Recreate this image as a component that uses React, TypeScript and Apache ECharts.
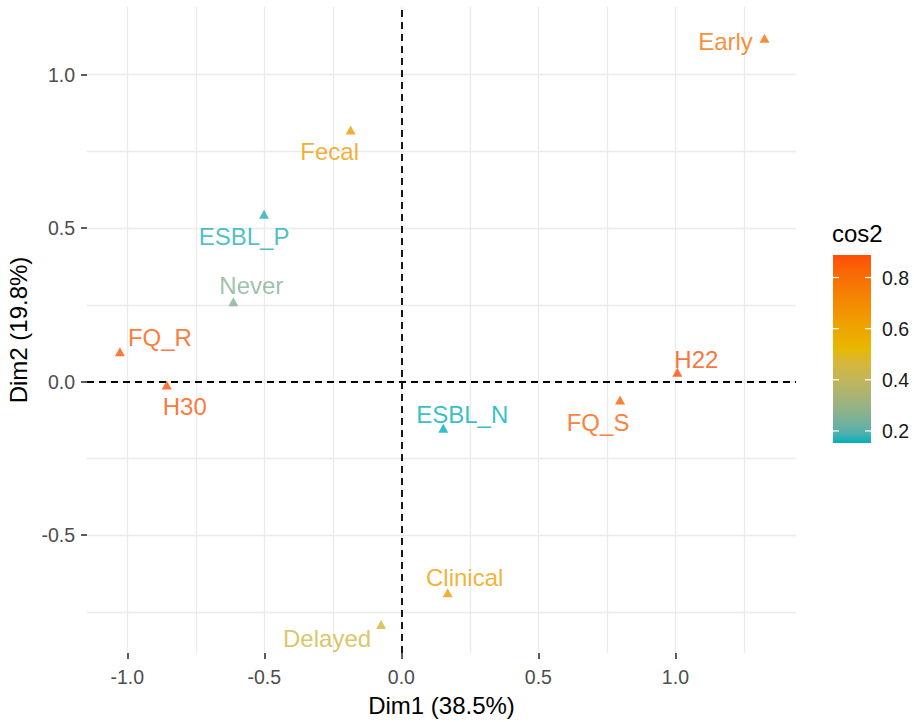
import React, { useEffect, useRef } from "react";
import * as echarts from "echarts";

// ---------- data ----------
const labels = ["Early", "Fecal", "ESBL_P", "Never", "FQ_R", "H30", "Delayed", "ESBL_N", "FQ_S", "H22", "Clinical"];
const dim1 = [1.325, -0.185, -0.501, -0.613, -1.027, -0.856, -0.074, 0.153, 0.798, 1.007, 0.169];
const dim2 = [1.118, 0.819, 0.545, 0.26, 0.097, -0.011, -0.791, -0.152, -0.06, 0.03, -0.688];
const cos2 = [0.79, 0.64, 0.16, 0.26, 0.86, 0.87, 0.45, 0.153, 0.84, 0.888, 0.63];

const xTicks = [-1, -0.5, 0, 0.5, 1];
const yTicks = [-0.5, 0, 0.5, 1];
const xGrid = [-1, -0.75, -0.5, -0.25, 0, 0.25, 0.5, 0.75, 1, 1.25];
const yGrid = [-0.75, -0.5, -0.25, 0, 0.25, 0.5, 0.75, 1];
const legendTicks = [0.2, 0.4, 0.6, 0.8];
const gradientColors = ["#00AFBB", "#E7B800", "#FC4E07"];

const xTitle = "Dim1 (38.5%)";
const yTitle = "Dim2 (19.8%)";
const legendTitle = "cos2";

// ---------- layout / style ----------
const W = 914;
const H = 722;
const FONT = "'Liberation Sans', Arial, sans-serif";
const GRID = { left: 87, right: W - 796, top: 7, bottom: H - 653 };
const X_RANGE = [-1.147, 1.44];
const Y_RANGE = [-0.884, 1.22];
const labelOffsets: Record<string, [number, number]> = {
  Early: [-39, 3],
  Fecal: [-21, 21],
  ESBL_P: [-20, 22],
  Never: [18, -16],
  FQ_R: [40, -14],
  H30: [18, 22],
  Delayed: [-54, 14],
  ESBL_N: [19, -14],
  FQ_S: [-22, 22],
  H22: [19, -13],
  Clinical: [17, -15],
};
const BAR = { x: 833, y: 255, w: 38, h: 188 };

// ---------- colour helpers (Lab interpolation like ggplot) ----------
function hexToRgb(h: string): number[] {
  const s = h.replace("#", "");
  return [0, 2, 4].map((i) => parseInt(s.slice(i, i + 2), 16));
}
function toLin(c: number) {
  c /= 255;
  return c <= 0.04045 ? c / 12.92 : Math.pow((c + 0.055) / 1.055, 2.4);
}
function fromLin(c: number) {
  const v = c <= 0.0031308 ? 12.92 * c : 1.055 * Math.pow(Math.max(c, 0), 1 / 2.4) - 0.055;
  return Math.max(0, Math.min(255, Math.round(v * 255)));
}
const XN = 0.95047, YN = 1, ZN = 1.08883;
function rgbToLab(rgb: number[]) {
  const [r, g, b] = rgb.map(toLin);
  const X = 0.4124564 * r + 0.3575761 * g + 0.1804375 * b;
  const Y = 0.2126729 * r + 0.7151522 * g + 0.072175 * b;
  const Z = 0.0193339 * r + 0.119192 * g + 0.9503041 * b;
  const f = (t: number) => (t > 0.008856 ? Math.cbrt(t) : 7.787 * t + 16 / 116);
  const fx = f(X / XN), fy = f(Y / YN), fz = f(Z / ZN);
  return [116 * fy - 16, 500 * (fx - fy), 200 * (fy - fz)];
}
function labToHex(lab: number[]) {
  const [L, a, bb] = lab;
  const fy = (L + 16) / 116;
  const fx = fy + a / 500;
  const fz = fy - bb / 200;
  const inv = (t: number) => (t * t * t > 0.008856 ? t * t * t : (t - 16 / 116) / 7.787);
  const X = XN * inv(fx), Y = YN * inv(fy), Z = ZN * inv(fz);
  const r = 3.2404542 * X - 1.5371385 * Y - 0.4985314 * Z;
  const g = -0.969266 * X + 1.8760108 * Y + 0.041556 * Z;
  const b = 0.0556434 * X - 0.2040259 * Y + 1.0572252 * Z;
  return "#" + [r, g, b].map((c) => fromLin(c).toString(16).padStart(2, "0")).join("");
}
const labStops = gradientColors.map((c) => rgbToLab(hexToRgb(c)));
function rampColor(t: number) {
  const tt = Math.max(0, Math.min(1, t));
  const seg = tt * (labStops.length - 1);
  const i = Math.min(labStops.length - 2, Math.floor(seg));
  const f = seg - i;
  const a = labStops[i], b = labStops[i + 1];
  return labToHex([0, 1, 2].map((k) => a[k] + (b[k] - a[k]) * f));
}

const cosMin = Math.min(...cos2);
const cosMax = Math.max(...cos2);
const cosColor = (v: number) => rampColor((v - cosMin) / (cosMax - cosMin));

export default function App() {
  const ref = useRef<HTMLDivElement>(null);

  useEffect(() => {
    document.body.style.margin = "0";
    if (!ref.current) return;
    const chart = echarts.init(ref.current, undefined, { renderer: "svg" });

    const points = labels.map((name, i) => {
      const col = cosColor(cos2[i]);
      return {
        name,
        value: [dim1[i], dim2[i], cos2[i]],
        itemStyle: { color: col },
        label: { color: col },
      };
    });

    const stops = [];
    for (let k = 0; k <= 20; k++) {
      stops.push({ offset: k / 20, color: rampColor(k / 20) });
    }

    const graphics: any[] = [
      {
        type: "text",
        x: BAR.x - 1,
        y: 233,
        style: { text: legendTitle, fontSize: 24, fontFamily: FONT, fill: "#000", verticalAlign: "middle", align: "left" },
      },
      {
        type: "rect",
        shape: { x: BAR.x, y: BAR.y, width: BAR.w, height: BAR.h },
        style: { fill: new echarts.graphic.LinearGradient(0, 1, 0, 0, stops) },
      },
    ];
    legendTicks.forEach((v) => {
      const ty = BAR.y + BAR.h - ((v - cosMin) / (cosMax - cosMin)) * BAR.h;
      graphics.push(
        { type: "line", shape: { x1: BAR.x, y1: ty, x2: BAR.x + 6, y2: ty }, style: { stroke: "#fff", lineWidth: 1.2 } },
        { type: "line", shape: { x1: BAR.x + BAR.w - 6, y1: ty, x2: BAR.x + BAR.w, y2: ty }, style: { stroke: "#fff", lineWidth: 1.2 } },
        {
          type: "text",
          x: 882,
          y: ty,
          style: { text: v.toFixed(1), fontSize: 19.5, fontFamily: FONT, fill: "#1A1A1A", verticalAlign: "middle", align: "left" },
        }
      );
    });

    const fmt = (v: number) => v.toFixed(1);

    chart.setOption({
      animation: false,
      backgroundColor: "#fff",
      textStyle: { fontFamily: FONT },
      grid: { ...GRID, containLabel: false, outerBoundsMode: "none" },
      xAxis: [
        {
          type: "value",
          min: X_RANGE[0],
          max: X_RANGE[1],
          position: "bottom",
          axisLine: { show: false, onZero: false },
          axisTick: { show: true, customValues: xTicks, length: 6, lineStyle: { color: "#333", width: 1.6 } },
          axisLabel: { customValues: xTicks, formatter: fmt, fontSize: 19.5, color: "#4D4D4D", margin: 14, fontFamily: FONT },
          splitLine: { show: false },
          name: xTitle,
          nameLocation: "middle",
          nameGap: 40,
          nameTextStyle: { fontSize: 24, color: "#000", fontFamily: FONT },
        },
        {
          type: "value",
          min: X_RANGE[0],
          max: X_RANGE[1],
          position: "bottom",
          axisLine: { show: false, onZero: false },
          axisTick: { show: false, customValues: xGrid },
          axisLabel: { show: false },
          splitLine: { show: true, lineStyle: { color: "#EBEBEB", width: 1.3 } },
        },
      ],
      yAxis: [
        {
          type: "value",
          min: Y_RANGE[0],
          max: Y_RANGE[1],
          position: "left",
          axisLine: { show: false, onZero: false },
          axisTick: { show: true, customValues: yTicks, length: 6, lineStyle: { color: "#333", width: 1.6 } },
          axisLabel: { customValues: yTicks, formatter: fmt, fontSize: 19.5, color: "#4D4D4D", margin: 12, fontFamily: FONT },
          splitLine: { show: false },
          name: yTitle,
          nameLocation: "middle",
          nameGap: 50,
          nameTextStyle: { fontSize: 24, color: "#000", fontFamily: FONT },
        },
        {
          type: "value",
          min: Y_RANGE[0],
          max: Y_RANGE[1],
          position: "left",
          axisLine: { show: false, onZero: false },
          axisTick: { show: false, customValues: yGrid },
          axisLabel: { show: false },
          splitLine: { show: true, lineStyle: { color: "#EBEBEB", width: 1.3 } },
        },
      ],
      series: [
        {
          type: "scatter",
          xAxisIndex: 0,
          yAxisIndex: 0,
          data: [],
          z: 2,
          silent: true,
          markLine: {
            silent: true,
            symbol: ["none", "none"],
            label: { show: false },
            lineStyle: { color: "#000", width: 1.8, type: [7, 5] },
            data: [{ xAxis: 0 }, { yAxis: 0 }],
          },
        },
        {
          type: "scatter",
          xAxisIndex: 0,
          yAxisIndex: 0,
          z: 5,
          symbol: "triangle",
          symbolSize: [10, 9],
          data: points,
          label: {
            show: true,
            position: "inside",
            formatter: "{b}",
            fontSize: 24,
            fontFamily: FONT,
            align: "center",
            verticalAlign: "middle",
          },
          labelLayout: (params: any) => {
            const name = labels[params.dataIndex];
            const off = labelOffsets[name] || [0, 0];
            const r = params.rect;
            return {
              x: r.x + r.width / 2 + off[0],
              y: r.y + r.height / 2 + off[1],
              align: "center",
              verticalAlign: "middle",
              hideOverlap: false,
            };
          },
        },
      ],
      graphic: graphics,
    });

    return () => chart.dispose();
  }, []);

  return <div ref={ref} style={{ width: W, height: H }} />;
}
